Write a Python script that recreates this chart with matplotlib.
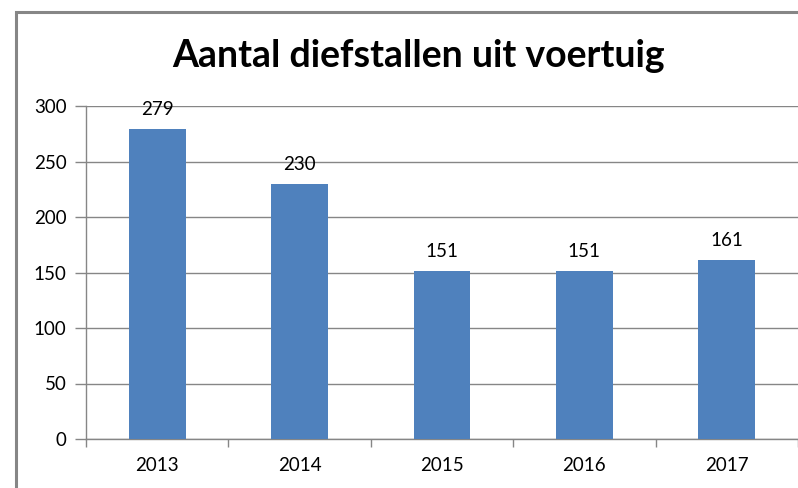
import matplotlib
matplotlib.use("Agg")
import matplotlib.pyplot as plt
from matplotlib.patches import Rectangle

years = ["2013", "2014", "2015", "2016", "2017"]
counts = [279, 230, 151, 151, 161]
yticks = [0, 50, 100, 150, 200, 250, 300]
title = "Aantal diefstallen uit voertuig"

W, H = 798, 488
fig = plt.figure(figsize=(W / 100, H / 100), dpi=100)
plt.rcParams['font.family'] = ['Lato', 'DejaVu Sans']

gray = "#868686"
# outer frame
fig.patches.append(Rectangle((16 / W, -0.1), 1.2, (H - 12) / H + 0.1, transform=fig.transFigure,
                             fill=False, edgecolor=gray, linewidth=2.2, zorder=0))

ax = fig.add_axes([86 / W, (H - 439) / H, (798 - 86) / W, (439 - 106) / H])
x = range(len(years))
ax.bar(x, counts, width=0.4, color="#4F81BD", zorder=3)
ax.set_xlim(-0.5, len(years) - 0.5)
ax.set_ylim(0, 300)
ax.set_yticks(yticks)
ax.set_yticklabels([str(v) for v in yticks], fontsize=13.5, color="#000000")
ax.set_xticks(list(x))
ax.set_xticklabels(years, fontsize=13.5)
ax.set_xticks([i + 0.5 for i in range(-1, len(years))], minor=True)
ax.tick_params(axis='x', which='major', length=0, pad=13)
ax.tick_params(axis='x', which='minor', length=6, color=gray, width=1)
ax.tick_params(axis='y', length=8, color=gray, width=1, pad=6)
ax.grid(axis='y', color=gray, linewidth=1, zorder=0)
ax.set_axisbelow(True)
for s in ['top', 'right']:
    ax.spines[s].set_visible(False)
for s in ['left', 'bottom']:
    ax.spines[s].set_color(gray)
    ax.spines[s].set_linewidth(1)

for i, c in enumerate(counts):
    ax.annotate(str(c), (i, c), xytext=(0, 8), textcoords='offset points',
                ha='center', va='bottom', fontsize=13.5)

fig.text(419 / W, (H - 56) / H, title, ha='center', va='center', fontsize=27, fontweight='bold')

fig.savefig("out.png", dpi=100)
